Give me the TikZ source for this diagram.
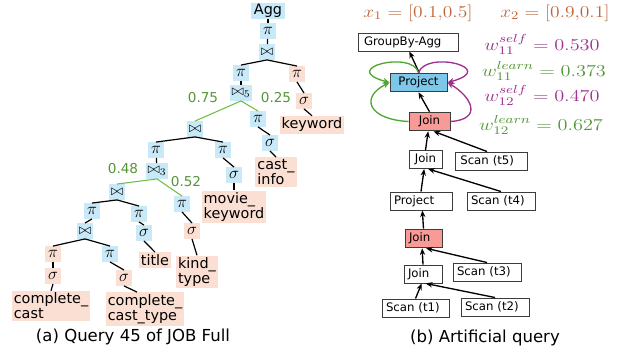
\RequirePackage{fix-cm}
\documentclass[tikz,border=0pt]{standalone}
\usepackage{fontspec}
\usepackage{graphicx}
\setmainfont{DejaVu Sans}
\usetikzlibrary{arrows.meta,calc}
\definecolor{lblue}{RGB}{200,233,248}
\definecolor{salm}{RGB}{251,223,210}
\definecolor{pblue}{RGB}{125,200,234}
\definecolor{jred}{RGB}{248,155,150}
\definecolor{tgreen}{RGB}{84,150,55}
\definecolor{egreen}{RGB}{112,190,70}
\definecolor{agreen}{RGB}{78,167,46}
\definecolor{wpurple}{RGB}{160,48,143}
\definecolor{xorange}{RGB}{190,100,55}
\definecolor{bgray}{RGB}{60,60,60}
\newcommand{\widelab}[1]{\scalebox{1.22}[1]{#1}}
\begin{document}
\begin{tikzpicture}[x=0.75pt,y=-0.75pt,
  opb/.style={fill=lblue, inner sep=1pt, minimum width=11.5pt, minimum height=11.5pt, font=\fontsize{12.5}{12.5}\selectfont},
  ops/.style={opb, fill=salm},
  jn/.style={font=\fontsize{11}{11}\selectfont, inner xsep=1.5pt},
  txt/.style={fill=salm, inner xsep=1.5pt, inner ysep=1.5pt, align=left, font=\fontsize{10.8}{11.2}\selectfont},
  num/.style={text=tgreen, inner sep=0pt, font=\fontsize{10.2}{11}\selectfont},
  te/.style={line width=0.9pt},
  ge/.style={line width=0.8pt, draw=egreen},
  rbox/.style={draw=bgray, line width=0.7pt, inner xsep=3pt, inner ysep=0pt, minimum height=13.5pt, minimum width=#1, font=\fontsize{8.8}{10}\selectfont},
  arr/.style={line width=1pt, -{Stealth[length=5pt,width=4pt]}},
  loopg/.style={draw=agreen, line width=1pt, -{Stealth[length=5pt,width=4.5pt]}},
  loopp/.style={draw=wpurple, line width=1pt, -{Stealth[length=5pt,width=4.5pt]}},
  wl/.style={inner sep=0pt, font=\fontsize{12.5}{13}\selectfont},
  captxt/.style={inner sep=0pt, font=\fontsize{12.4}{14}\selectfont}
]
\useasboundingbox (0,0) rectangle (625,352);

% ---------- left tree ----------
\node[opb, font=\fontsize{10.8}{11}\selectfont, inner xsep=2pt] (agg) at (268,11) {Agg};
\node[opb] (p1) at (268,31) {$\pi$};
\node[opb, jn] (j1t) at (267,52) {$\bowtie$};
\node[opb] (p2) at (241,73) {$\pi$};
\node[ops] (p3) at (297,74) {$\pi$};
\node[opb, jn] (j5) at (241,93) {$\bowtie_5$};
\node[ops] (s3t) at (304,101) {$\sigma$};
\node[txt] (kw) at (312,125) {keyword};
\node[num] (n075) at (203,98) {0.75};
\node[num] (n025) at (276,98) {0.25};
\node[opb, jn] (j4) at (195,129) {$\bowtie$};
\node[opb] (p4) at (258,119) {$\pi$};
\node[opb] (s4t) at (270,143) {$\sigma$};
\node[txt] (ci) at (276,172) {cast\_\\info};
\node[opb] (p5) at (156,150) {$\pi$};
\node[opb] (p6) at (223,150) {$\pi$};
\node[opb] (s5t) at (234,175) {$\sigma$};
\node[txt] (mk) at (234,207) {movie\_\\keyword};
\node[opb, jn] (j3) at (157,171) {$\bowtie_3$};
\node[num] (n048) at (123,169) {0.48};
\node[num] (n052) at (186,182) {0.52};
\node[opb, jn] (j2t) at (117,192) {$\bowtie$};
\node[opb] (p7) at (182,204) {$\pi$};
\node[ops] (s6t) at (192,231) {$\sigma$};
\node[txt] (kt) at (197,272) {kind\_\\type};
\node[opb] (p8) at (92,211) {$\pi$};
\node[opb] (p9) at (139,214) {$\pi$};
\node[opb] (s7t) at (144,233) {$\sigma$};
\node[txt] (ti) at (155,260) {title};
\node[opb, jn] (j1b) at (85,231) {$\bowtie$};
\node[ops] (p10) at (53,254) {$\pi$};
\node[opb] (p11) at (110,254) {$\pi$};
\node[ops] (s8t) at (53,276) {$\sigma$};
\node[ops] (s9t) at (124,278) {$\sigma$};
\node[txt] (cc) at (51,306) {complete\_\\cast};
\node[txt] (cct) at (145,309) {complete\_\\cast\_type};

\draw[te] (agg) -- (p1);
\draw[te] (p1) -- (j1t);
\draw[te] (j1t.south) -- (p2.north);
\draw[te] (j1t.south) -- (p3.north);
\draw[te] (p2) -- (j5);
\draw[te] (p3.south) -- (s3t.north);
\draw[te] (s3t.south) -- (kw.north);
\draw[ge] (j5.south) -- (j4.north);
\draw[ge] (j5.south) -- (p4.north);
\draw[te] (p4.south) -- (s4t.north);
\draw[te] (s4t.south) -- (ci.north);
\draw[te] (j4.south) -- (p5.north);
\draw[te] (j4.south) -- (p6.north);
\draw[te] (p6.south) -- (s5t.north);
\draw[te] (s5t.south) -- (mk.north);
\draw[te] (p5) -- (j3);
\draw[ge] (j3.south) -- (j2t.north);
\draw[ge] (j3.south) -- (p7.north);
\draw[te] (p7.south) -- (s6t.north);
\draw[te] (s6t.south) -- (kt.north);
\draw[te] (j2t.south) -- (p8.north);
\draw[te] (j2t.south) -- (p9.north);
\draw[te] (p9.south) -- (s7t.north);
\draw[te] (s7t.south) -- (ti.north);
\draw[te] (p8.south) -- (j1b.north);
\draw[te] (j1b.south) -- (p10.north);
\draw[te] (j1b.south) -- (p11.north);
\draw[te] (p10) -- (s8t);
\draw[te] (s8t.south) -- (cc.north);
\draw[te] (p11.south) -- (s9t.north);
\draw[te] (s9t.south) -- ([xshift=-6pt]cct.north);

\node[captxt] (capa) at (133,337) {(a) Query 45 of JOB Full};

% ---------- right panel ----------
\node[wl, text=xorange] (x1) at (418,13) {\scalebox{1.17}[1]{$x_1=[0.1{,}0.5]$}};
\node[wl, text=xorange] (x2) at (555,13) {\scalebox{1.17}[1]{$x_2=[0.9{,}0.1]$}};

\node[rbox=75pt, text width=66pt, align=left] (gb) at (408,42) {GroupBy-Agg};
\node[rbox=42.75pt, fill=pblue, minimum height=14pt] (pj) at (418.5,82.5) {Project};
\node[rbox=30.75pt, fill=jred, minimum height=14pt] (jr1) at (429.5,121.5) {Join};
\node[rbox=24.75pt] (jw2) at (425.5,159.5) {Join};
\node[rbox=54pt, text width=46pt, align=left] (s5) at (491,161) {Scan (t5)};
\node[rbox=46.5pt, text width=40.5pt, align=left] (pw) at (421,201) {Project};
\node[rbox=51pt, text width=45pt, align=left] (s4) at (501,201) {Scan (t4)};
\node[rbox=27.75pt, fill=jred, minimum height=14pt, text width=21.75pt, align=left] (jr2) at (423.5,238.5) {Join};
\node[rbox=28.5pt, text width=22.5pt, align=left] (jw1) at (423,274) {Join};
\node[rbox=51pt, text width=45pt, align=left] (s3) at (487,272) {Scan (t3)};
\node[rbox=50.25pt, text width=44.25pt, align=left] (s1) at (415.5,308) {Scan (t1)};
\node[rbox=51pt, text width=45pt, align=left] (s2) at (495,307) {Scan (t2)};

\draw[arr] ([xshift=0.5pt]pj.north) -- ([xshift=1pt]gb.south);
\draw[arr] (jr1.north) -- (pj.south);
\draw[arr] (jw2.north) -- ([xshift=-1pt]jr1.south);
\draw[arr] ([xshift=-3pt]s5.north) -- ([xshift=3pt]jr1.south);
\draw[arr] (pw.north) -- ([xshift=-1pt]jw2.south);
\draw[arr] (s4.north) -- ([xshift=2pt]jw2.south);
\draw[arr] (jr2.north) -- ([xshift=1pt]pw.south);
\draw[arr] (jw1.north) -- ([xshift=-1pt]jr2.south);
\draw[arr] (s3.north) -- ([xshift=2pt]jr2.south);
\draw[arr] (s1.north) -- ([xshift=-1pt]jw1.south);
\draw[arr] (s2.north) -- ([xshift=2pt]jw1.south);

\draw[loopg] (pj.north) .. controls +(-6,-23) and +(-52,-14) .. (pj.west);
\draw[loopp] (pj.north) .. controls +(8,-23) and +(52,-14) .. (pj.east);
\draw[loopg] (jr1.west) .. controls +(-40,-2) and +(-30,15) .. (pj.west);
\draw[loopp] (jr1.east) .. controls +(32,-2) and +(25,15) .. (pj.east);

\node[wl, text=wpurple] (w1) at (542,44) {\widelab{$w_{11}^{self}=0.530$}};
\node[wl, text=tgreen] (w2) at (544,71) {\widelab{$w_{11}^{learn}=0.373$}};
\node[wl, text=wpurple] (w3) at (542,95) {\widelab{$w_{12}^{self}=0.470$}};
\node[wl, text=tgreen] (w4) at (541,125) {\widelab{$w_{12}^{learn}=0.627$}};

\node[captxt] (capb) at (485,338) {(b) Artificial query};
\end{tikzpicture}
\end{document}
